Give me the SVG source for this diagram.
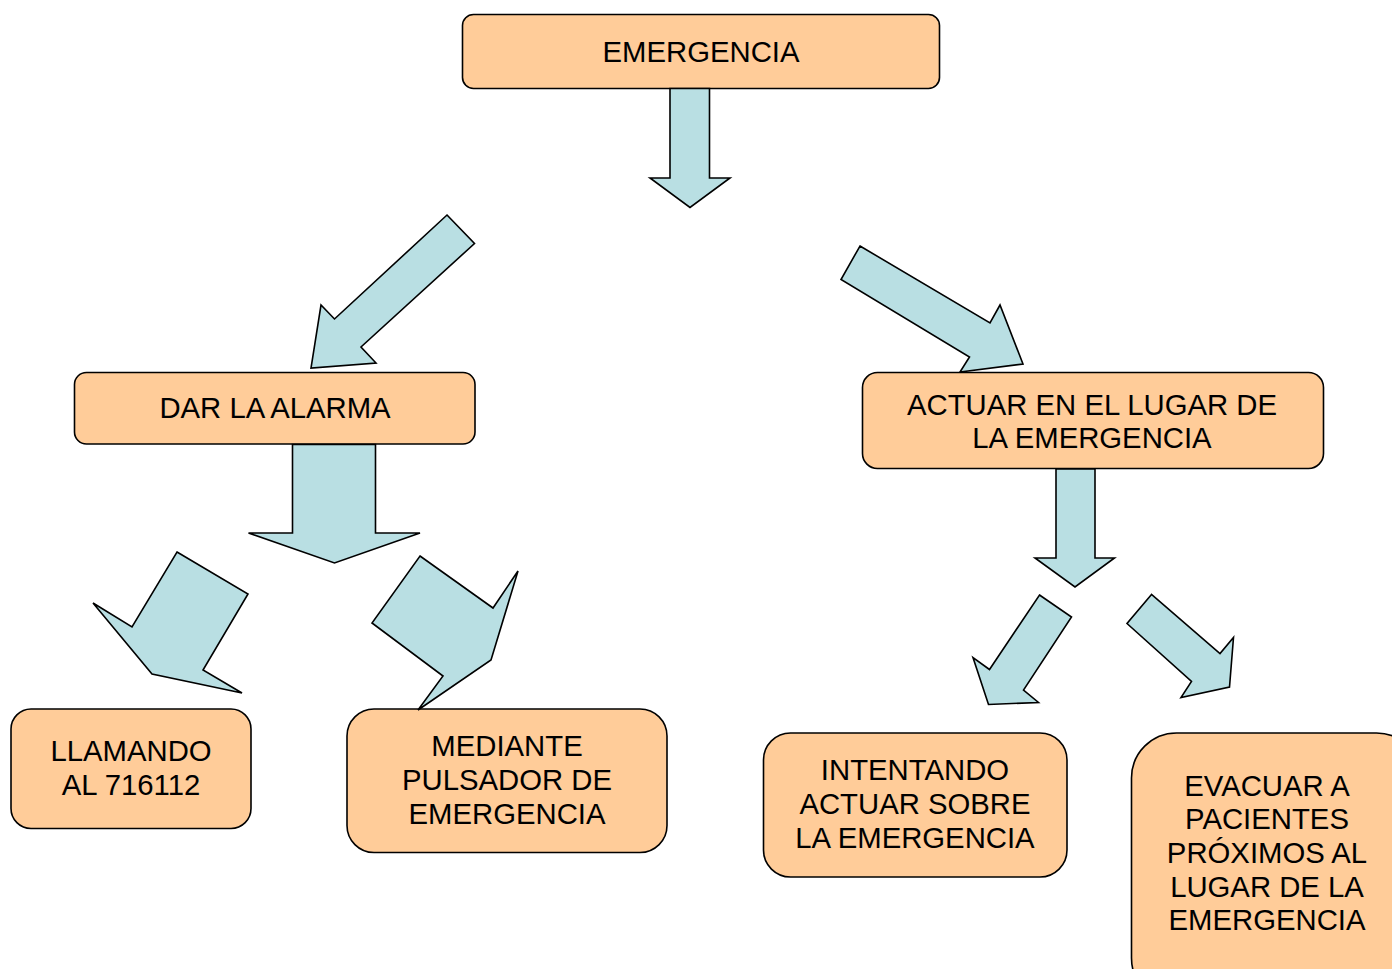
<svg xmlns="http://www.w3.org/2000/svg" width="1392" height="969" viewBox="0 0 1392 969">
<style>
.box{fill:#FFCC99;stroke:#000;stroke-width:1.6}
.arr{fill:#B9DFE3;stroke:#000;stroke-width:1.6;stroke-linejoin:miter}
.t{font-family:"Liberation Sans",Arial,sans-serif;font-size:29.3px;fill:#000;text-anchor:middle}
</style>
<rect width="1392" height="969" fill="#fff"/>
<g id="n-emergencia">
<rect class="box" x="462.5" y="14.5" width="477" height="74" rx="11"/>
<text class="t" x="701" y="62">EMERGENCIA</text>
</g>
<g id="n-dar">
<rect class="box" x="74.5" y="372.5" width="400.5" height="71.5" rx="12"/>
<text class="t" x="275" y="418">DAR LA ALARMA</text>
</g>
<g id="n-actuar">
<rect class="box" x="862.5" y="372.5" width="461" height="96" rx="15"/>
<text class="t" x="1092" y="415">ACTUAR EN EL LUGAR DE</text>
<text class="t" x="1092" y="448">LA EMERGENCIA</text>
</g>
<g id="n-llamando">
<rect class="box" x="11" y="709" width="240" height="119.5" rx="20"/>
<text class="t" x="131" y="761">LLAMANDO</text>
<text class="t" x="131" y="795">AL 716112</text>
</g>
<g id="n-mediante">
<rect class="box" x="347" y="709" width="320" height="143.5" rx="27"/>
<text class="t" x="507" y="756">MEDIANTE</text>
<text class="t" x="507" y="790">PULSADOR DE</text>
<text class="t" x="507" y="824">EMERGENCIA</text>
</g>
<g id="n-intentando">
<rect class="box" x="763.5" y="733" width="303.5" height="144" rx="27"/>
<text class="t" x="915" y="780">INTENTANDO</text>
<text class="t" x="915" y="814">ACTUAR SOBRE</text>
<text class="t" x="915" y="848">LA EMERGENCIA</text>
</g>
<g id="n-evacuar">
<rect class="box" x="1131.5" y="733" width="290" height="270" rx="45"/>
<text class="t" x="1267" y="796">EVACUAR A</text>
<text class="t" x="1267" y="829">PACIENTES</text>
<text class="t" x="1267" y="863">PRÓXIMOS AL</text>
<text class="t" x="1267" y="897">LUGAR DE LA</text>
<text class="t" x="1267" y="930">EMERGENCIA</text>
</g>
<g id="connectors">
<polygon class="arr" points="670,88.5 709.5,88.5 709.5,178 730,178 690,207.5 650,178 670,178"/>
<polygon class="arr" points="447,215 474.5,243.5 361,347 376,363 311,368 321,305 334.5,319"/>
<polygon class="arr" points="860,246 990,323 1000,305 1023,364 960,372 969.5,357 841,279.5"/>
<polygon class="arr" points="292.5,444.5 375.5,444.5 375.5,533 420,533 334.5,563 248.5,533 292.5,533"/>
<polygon class="arr" points="177,552 248,594 203,670 242,693 152,674 93,603 132,627"/>
<polygon class="arr" points="420,556 493,608 518,571 491,660 418,710 443,676 372,623"/>
<polygon class="arr" points="1056,469 1095,469 1095,558 1114.5,558 1075,587 1035,558 1056,558"/>
<polygon class="arr" points="1039.5,595 1071.5,617 1023.5,690 1038.5,702.5 988.5,704.5 973,657.5 989.5,669.5"/>
<polygon class="arr" points="1151.5,594.5 1127,623.5 1191.5,681.5 1181,697.5 1229.5,687 1233.5,637.5 1220,653.5"/>
</g>
</svg>
